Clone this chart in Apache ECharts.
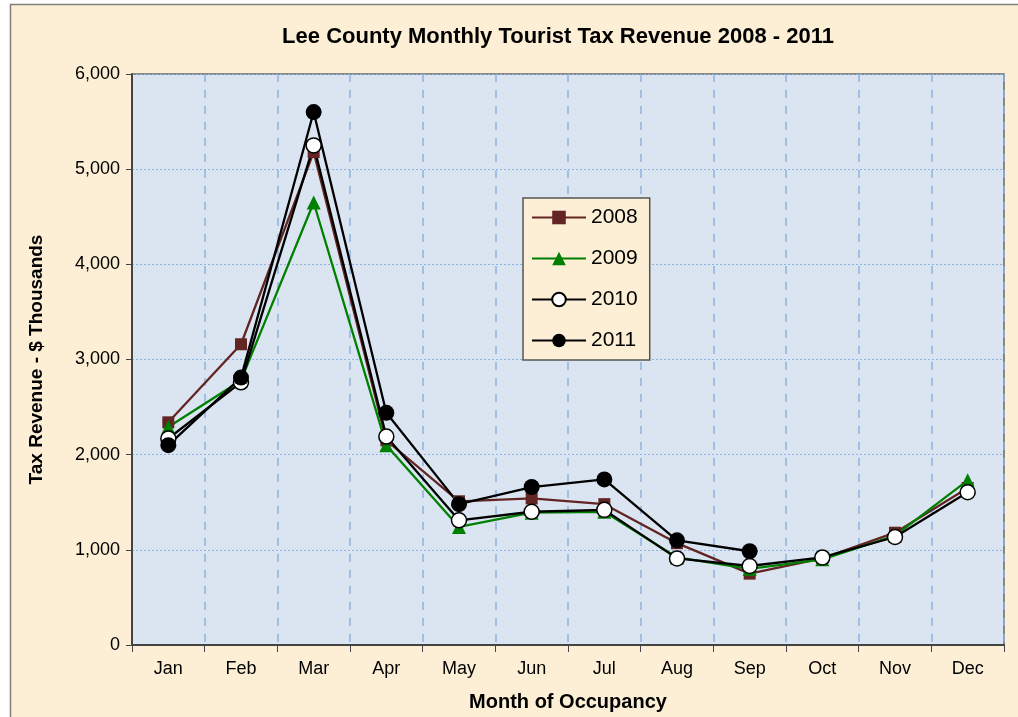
<html>
<head>
<meta charset="utf-8">
<script src="https://cdn.jsdelivr.net/npm/echarts@6/dist/echarts.min.js"></script>
<style>
  html, body { margin: 0; padding: 0; background: #ffffff; }
  #main { width: 1018px; height: 717px; }
</style>
</head>
<body>
<div id="main"></div>
<script type="text/javascript">
// months on the x axis
var months = ['Jan', 'Feb', 'Mar', 'Apr', 'May', 'Jun', 'Jul', 'Aug', 'Sep', 'Oct', 'Nov', 'Dec'];
// revenue in $ thousands
var rev2008 = [2340, 3160, 5180, 2150, 1510, 1540, 1480, 1070, 750, 910, 1180, 1650];
var rev2009 = [2290, 2780, 4650, 2100, 1240, 1390, 1400, 920, 800, 900, 1150, 1730];
var rev2010 = [2170, 2760, 5250, 2190, 1310, 1400, 1420, 910, 830, 920, 1135, 1605];
var rev2011 = [2100, 2810, 5600, 2440, 1480, 1660, 1740, 1100, 985, null, null, null];
var yTicks = { min: 0, max: 6000, step: 1000 };

var paper = '#fcefd5';
var fontFam = 'Liberation Sans, Arial, sans-serif';

function mkSeries(name, data, symbol, size, lineColor, fill, border) {
    return {
        name: name,
        type: 'line',
        data: data,
        symbol: symbol,
        symbolSize: size,
        connectNulls: false,
        lineStyle: { color: lineColor, width: 2.3 },
        itemStyle: { color: fill, borderColor: border, borderWidth: border ? 1.5 : 0 },
        emphasis: { disabled: true }
    };
}

var myChart = echarts.init(document.getElementById('main'));
var option = {
    animation: false,
    textStyle: { fontFamily: fontFam },
    graphic: [{
        type: 'rect',
        z: -10,
        shape: { x: 10.5, y: 4.5, width: 1030, height: 730 },
        style: { fill: paper, stroke: '#7f7f7f', lineWidth: 1.5 }
    }],
    title: {
        text: 'Lee County Monthly Tourist Tax Revenue 2008 - 2011',
        left: 553,
        textAlign: 'center',
        top: 21,
        textStyle: { fontSize: 22, fontWeight: 'bold', color: '#000', fontFamily: fontFam }
    },
    legend: {
        orient: 'vertical',
        left: 523,
        top: 198,
        padding: [9, 12, 9, 8],
        itemWidth: 54,
        itemHeight: 17,
        itemGap: 20,
        backgroundColor: paper,
        borderColor: '#555',
        borderWidth: 1.5,
        textStyle: { fontSize: 21, color: '#000', fontFamily: fontFam },
        data: ['2008', '2009', '2010', '2011']
    },
    grid: {
        left: 132, right: 14, top: 74, bottom: 72,
        show: true,
        backgroundColor: '#dbe5f1',
        borderColor: '#666',
        borderWidth: 1.5
    },
    xAxis: {
        type: 'category',
        data: months,
        boundaryGap: true,
        name: 'Month of Occupancy',
        nameLocation: 'middle',
        nameGap: 47,
        nameTextStyle: { fontSize: 20, fontWeight: 'bold', color: '#000' },
        axisLine: { lineStyle: { color: '#444', width: 2 } },
        axisTick: { show: true, length: 7, lineStyle: { color: '#444' } },
        axisLabel: { fontSize: 18, color: '#000', margin: 15 },
        splitLine: { show: true, lineStyle: { color: '#8db3e2', type: [8, 8], width: 1.5 } }
    },
    yAxis: {
        type: 'value',
        min: yTicks.min,
        max: yTicks.max,
        interval: yTicks.step,
        name: 'Tax Revenue - $ Thousands',
        nameLocation: 'middle',
        nameGap: 86,
        nameTextStyle: { fontSize: 19, fontWeight: 'bold', color: '#000' },
        axisLine: { show: true, lineStyle: { color: '#444', width: 2 } },
        axisTick: { show: true, length: 6, lineStyle: { color: '#444' } },
        axisLabel: {
            fontSize: 18, color: '#000', margin: 12,
            formatter: function (v) { return v.toLocaleString('en-US'); }
        },
        splitLine: { show: true, lineStyle: { color: '#8db3e2', type: [2, 2], width: 1 } }
    },
    series: [
        mkSeries('2008', rev2008, 'rect', 12, '#632523', '#632523', null),
        mkSeries('2009', rev2009, 'triangle', 14, '#008000', '#008000', null),
        mkSeries('2010', rev2010, 'circle', 15, '#000000', '#ffffff', '#000000'),
        mkSeries('2011', rev2011, 'circle', 16, '#000000', '#000000', null)
    ]
};
myChart.setOption(option);
</script>
</body>
</html>
